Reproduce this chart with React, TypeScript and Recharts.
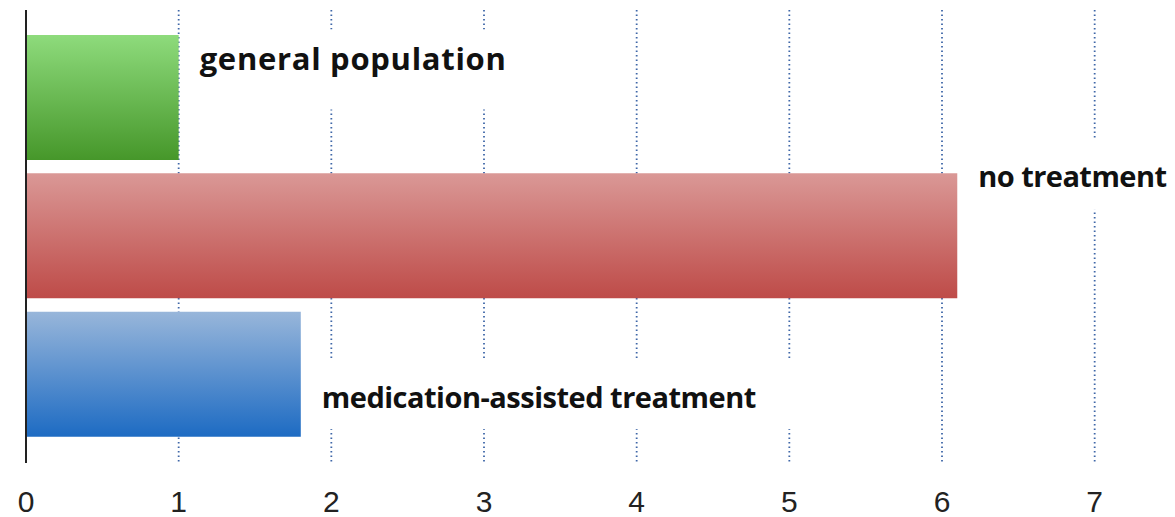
import React from 'react';
import { BarChart, Bar, XAxis, YAxis, CartesianGrid, Cell, LabelList, ReferenceLine } from 'recharts';

// ---- data ----
const categories = ['general population', 'no treatment', 'medication-assisted treatment'];
const values = [1.0, 6.1, 1.8];
const xTicks = [0, 1, 2, 3, 4, 5, 6, 7];

// ---- styles ----
const gradients = [
  { id: 'gGreen', top: '#8edb7c', bottom: '#46972a' },
  { id: 'gRed', top: '#da9896', bottom: '#be4b48' },
  { id: 'gBlue', top: '#98b6da', bottom: '#1d6bc3' },
];
const labelDy = [-40, -60, 22];
const labelBoxW = [360, 215, 490];
const labelBoxTop = [-28, -36, -37];
const labelBoxH = [80, 70, 70];
const labelFontSize = [31, 29, 29];
const labelSpacing = [0.7, -0.55, -0.5];

const data = categories.map((name, i) => ({ name, value: values[i] }));

const renderLabel = (props: any) => {
  const { x, y, width, height, index } = props;
  const tx = Number(x) + Number(width) + 21;
  const ty = Number(y) + Number(height) / 2 + labelDy[index];
  return (
    <g>
      <rect x={tx - 12} y={ty + labelBoxTop[index]} width={labelBoxW[index]} height={labelBoxH[index]} fill="#ffffff" />
      <text
        x={tx}
        y={ty}
        dominantBaseline="central"
        fontFamily="'Open Sans', sans-serif"
        fontWeight={700}
        fontSize={labelFontSize[index]}
        letterSpacing={labelSpacing[index]}
        fill="#111"
      >
        {categories[index]}
      </text>
    </g>
  );
};

export default function App() {
  return (
    <div style={{ marginLeft: -8, marginTop: -8, width: 1175, height: 517, background: '#fff' }}>
      <BarChart
        width={1175}
        height={517}
        data={data}
        layout="vertical"
        margin={{ top: 10, right: 4, left: 26, bottom: 0 }}
        barSize={125}
      >
        <defs>
          {gradients.map((g) => (
            <linearGradient key={g.id} id={g.id} x1="0" y1="0" x2="0" y2="1">
              <stop offset="0%" stopColor={g.top} />
              <stop offset="100%" stopColor={g.bottom} />
            </linearGradient>
          ))}
        </defs>
        <CartesianGrid
          horizontal={false}
          stroke="#3f67a8"
          strokeWidth={1.8}
          strokeDasharray="1.5 3"
        />
        <XAxis
          type="number"
          domain={[0, 7.5]}
          ticks={xTicks}
          axisLine={false}
          tickLine={false}
          height={54}
          tickMargin={22}
          tick={{ fontSize: 30, fill: '#222', fontFamily: "'Liberation Sans', Arial, sans-serif" }}
        />
        <YAxis
          type="category"
          dataKey="name"
          width={0}
          tick={false}
          tickLine={false}
          axisLine={false}
          padding={{ top: 18, bottom: 20 }}
        />
        <ReferenceLine x={0} stroke="#222" strokeWidth={2} />
        <Bar dataKey="value" isAnimationActive={false}>
          {data.map((d, i) => (
            <Cell key={d.name} fill={`url(#${gradients[i].id})`} />
          ))}
          <LabelList dataKey="value" content={renderLabel} />
        </Bar>
      </BarChart>
    </div>
  );
}
